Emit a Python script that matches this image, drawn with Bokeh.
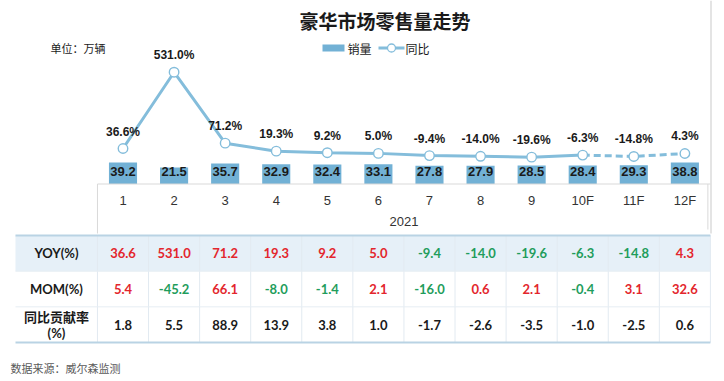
from bokeh.plotting import figure
from bokeh.models import Range1d
from bokeh.core.properties import value
from bokeh.embed import file_html
from bokeh.resources import INLINE

# ---------------- data ----------------
months = ["1", "2", "3", "4", "5", "6", "7", "8", "9", "10F", "11F", "12F"]
year_label = "2021"
sales = [39.2, 21.5, 35.7, 32.9, 32.4, 33.1, 27.8, 27.9, 28.5, 28.4, 29.3, 38.8]
yoy = [36.6, 531.0, 71.2, 19.3, 9.2, 5.0, -9.4, -14.0, -19.6, -6.3, -14.8, 4.3]
mom = [5.4, -45.2, 66.1, -8.0, -1.4, 2.1, -16.0, 0.6, 2.1, -0.4, 3.1, 32.6]
contrib = [1.8, 5.5, 88.9, 13.9, 3.8, 1.0, -1.7, -2.6, -3.5, -1.0, -2.5, 0.6]
n_actual = 10  # points up to 10F drawn solid, after that dashed
row_labels = ["YOY(%)", "MOM(%)", "同比贡献率", "(%)"]
title = "豪华市场零售量走势"
unit_text = "单位：万辆"
legend_bar = "销量"
legend_line = "同比"
source_text = "数据来源：威尔森监测"

# ---------------- style / layout ----------------
BAR_C = "#72b1d5"
LINE_C = "#84bddb"
RED = "#e3262d"
GREEN = "#1f9d5c"
CJK = "Noto Sans CJK SC"
ARIAL = "Liberation Sans"
TBL = "Lato"

W, H = 724, 381
PL, PT = 0, 0
CAT_X0 = 122.5      # page px of first category centre
CAT_STEP = 51.08    # px per category
BASE_PY = 183.5     # page y of bar base / category box top
BAR_BASE = -37.0
BAR_SCALE = 0.2825  # px per unit
YOY_REF_V, YOY_REF_PY, YOY_SCALE = 36.6, 148.0, 0.1543
TABLE_L = 15
ROW_TOP, ROW_H, N_ROWS = 235.0, 35.67, 3

x_start = 1 - (CAT_X0 - PL) / CAT_STEP
x_end = x_start + W / CAT_STEP
bottom_py, top_py = PT + H, PT

p = figure(width=W, height=H, output_backend="svg", toolbar_location=None,
           x_range=Range1d(x_start, x_end), y_range=Range1d(bottom_py, top_py),
           min_border=0, x_axis_location=None, y_axis_location=None,
           outline_line_color=None, background_fill_color="white")
p.grid.visible = False
p.extra_x_ranges = {"px": Range1d(PL, PL + W)}
p.extra_y_ranges = {
    "bar": Range1d(BAR_BASE - (bottom_py - BASE_PY) / BAR_SCALE,
                   BAR_BASE + (BASE_PY - top_py) / BAR_SCALE),
    "yoy": Range1d(YOY_REF_V - (bottom_py - YOY_REF_PY) / YOY_SCALE,
                   YOY_REF_V + (YOY_REF_PY - top_py) / YOY_SCALE),
}

xs = list(range(1, len(months) + 1))
right_edge = len(months) + 0.5
table_r_px = CAT_X0 + (right_edge - 1) * CAT_STEP

# ---------------- title / legend / notes ----------------
p.text(x=[384.5], y=[20], text=[title], x_range_name="px",
       text_font=value(CJK), text_font_style="bold", text_font_size=value("19px"),
       text_align="center", text_baseline="middle", text_color="#1a1a1a")
p.text(x=[50], y=[47], text=[unit_text], x_range_name="px",
       text_font=value(CJK), text_font_size=value("11px"),
       text_align="left", text_baseline="middle", text_color="#1a1a1a")
p.quad(left=[322], right=[344], top=[44], bottom=[51], x_range_name="px",
       fill_color=BAR_C, line_color=None)
p.text(x=[347], y=[47.5], text=[legend_bar], x_range_name="px",
       text_font=value(CJK), text_font_size=value("12px"),
       text_align="left", text_baseline="middle", text_color="#1a1a1a")
p.segment(x0=[378], y0=[47.5], x1=[404], y1=[47.5], x_range_name="px",
          line_color=LINE_C, line_width=3)
p.scatter(x=[391], y=[47.5], size=8, x_range_name="px",
          fill_color="white", line_color=LINE_C, line_width=1.3)
p.text(x=[405], y=[47.5], text=[legend_line], x_range_name="px",
       text_font=value(CJK), text_font_size=value("12px"),
       text_align="left", text_baseline="middle", text_color="#1a1a1a")
p.text(x=[10], y=[367], text=[source_text], x_range_name="px",
       text_font=value(CJK), text_font_size=value("11px"),
       text_align="left", text_baseline="middle", text_color="#595959")

# right border of chart area
p.segment(x0=[710.5], y0=[top_py], x1=[710.5], y1=[233], x_range_name="px",
          line_color="#c9c9c9", line_width=1)

# ---------------- bars ----------------
p.vbar(x=xs, top=sales, bottom=BAR_BASE, width=0.55, y_range_name="bar",
       fill_color=BAR_C, line_color=None)
p.text(x=xs, y=[BAR_BASE] * len(xs), text=[f"{v:.1f}" for v in sales],
       y_range_name="bar", y_offset=-12.5,
       text_font=value(ARIAL), text_font_style="bold", text_font_size=value("13px"),
       text_align="center", text_baseline="middle", text_color="#1a1a1a")

# ---------------- YoY line ----------------
p.line(x=xs[:n_actual], y=yoy[:n_actual], y_range_name="yoy",
       line_color=LINE_C, line_width=3)
p.line(x=xs[n_actual - 1:], y=yoy[n_actual - 1:], y_range_name="yoy",
       line_color=LINE_C, line_width=3, line_dash="7 4")
p.scatter(x=xs, y=yoy, size=9.5, y_range_name="yoy",
          fill_color="white", line_color=LINE_C, line_width=1.4)
p.text(x=xs, y=yoy, text=[f"{v:.1f}%" for v in yoy], y_range_name="yoy",
       y_offset=-17,
       text_font=value(ARIAL), text_font_style="bold", text_font_size=value("12px"),
       text_align="center", text_baseline="middle", text_color="#1a1a1a")

# ---------------- category box ----------------
p.segment(x0=[0.5], y0=[BASE_PY], x1=[right_edge], y1=[BASE_PY],
          line_color="#d9d9d9", line_width=1)
p.segment(x0=[0.5, right_edge - 0.05], y0=[BASE_PY] * 2,
          x1=[0.5, right_edge - 0.05], y1=[233, 229],
          line_color="#d9d9d9", line_width=1)
p.text(x=xs, y=[200] * len(xs), text=months,
       text_font=value(ARIAL), text_font_size=value("13px"),
       text_align="center", text_baseline="middle", text_color="#333333")
p.text(x=[(0.5 + right_edge) / 2], y=[220.5], text=[year_label],
       text_font=value(ARIAL), text_font_size=value("13px"),
       text_align="center", text_baseline="middle", text_color="#333333")

# ---------------- table ----------------
row_tops = [ROW_TOP + ROW_H * r for r in range(N_ROWS + 1)]
row_mid = [ROW_TOP + ROW_H * (r + 0.5) for r in range(N_ROWS)]
p.quad(left=[TABLE_L], right=[table_r_px], top=[row_tops[0]], bottom=[row_tops[1]],
       x_range_name="px", fill_color="#e6f0f8", line_color=None)
seps = [c + 0.5 for c in range(0, len(months) + 1)]
p.segment(x0=seps, y0=[row_tops[0]] * len(seps), x1=seps, y1=[row_tops[-1]] * len(seps),
          line_color="#e2eaf1", line_width=1)
p.segment(x0=[TABLE_L] * 2, y0=row_tops[1:3], x1=[table_r_px] * 2, y1=row_tops[1:3],
          x_range_name="px", line_color="#e6edf3", line_width=1)
p.segment(x0=[TABLE_L] * 2, y0=[row_tops[0], row_tops[-1]],
          x1=[table_r_px] * 2, y1=[row_tops[0], row_tops[-1]],
          x_range_name="px", line_color="#b9d3e4", line_width=2)

hdr_x = (TABLE_L + CAT_X0 - CAT_STEP / 2) / 2
p.text(x=[hdr_x] * 2, y=row_mid[:2], text=row_labels[:2], x_range_name="px",
       text_font=value(TBL), text_font_style="bold", text_font_size=value("13px"),
       text_align="center", text_baseline="middle", text_color="#1a1a1a")
p.text(x=[hdr_x], y=[row_mid[2] - 8.5], text=[row_labels[2]], x_range_name="px",
       text_font=value(CJK), text_font_style="bold", text_font_size=value("13px"),
       text_align="center", text_baseline="middle", text_color="#1a1a1a")
p.text(x=[hdr_x], y=[row_mid[2] + 8.5], text=[row_labels[3]], x_range_name="px",
       text_font=value(TBL), text_font_style="bold", text_font_size=value("13px"),
       text_align="center", text_baseline="middle", text_color="#1a1a1a")

for r, (vals, colored) in enumerate([(yoy, True), (mom, True), (contrib, False)]):
    cols = [(RED if v >= 0 else GREEN) if colored else "#1a1a1a" for v in vals]
    p.text(x=xs, y=[row_mid[r]] * len(xs), text=[f"{v:.1f}" for v in vals],
           text_font=value(TBL), text_font_style="bold", text_font_size=value("13px"),
           text_align="center", text_baseline="middle", text_color=cols)

open("out.html", "w").write(file_html(p, INLINE))
